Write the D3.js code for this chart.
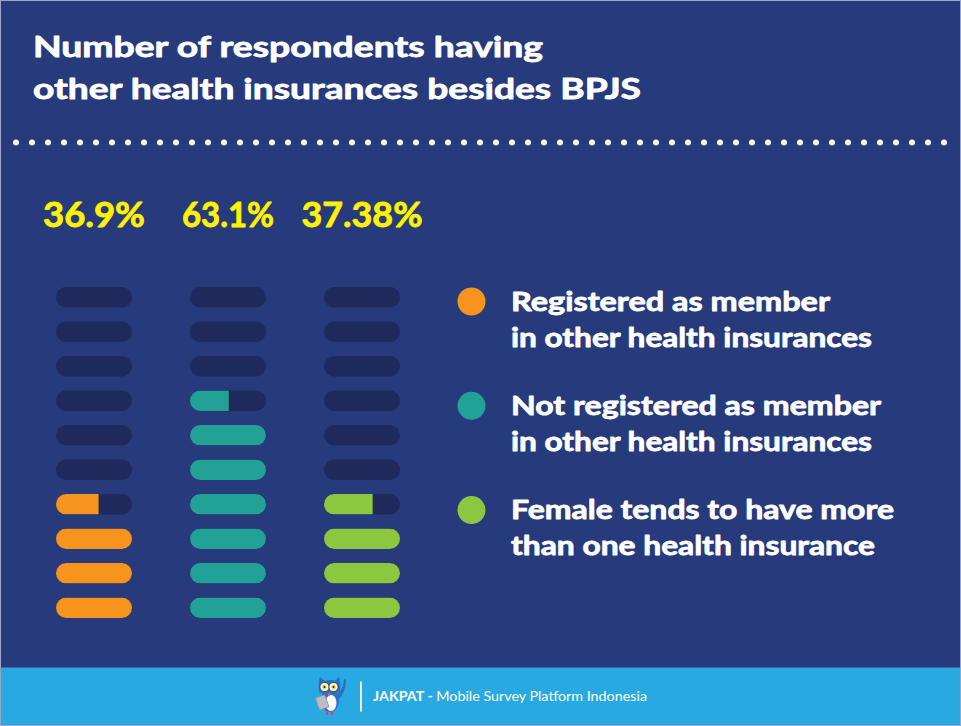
<!DOCTYPE html>
<html>
<head>
<meta charset="utf-8">
<script src="https://cdn.jsdelivr.net/npm/d3@7"></script>
<style>
  html, body { margin: 0; padding: 0; background: #263a7c; }
  svg { display: block; }
  text { font-family: Lato, "Open Sans", sans-serif; font-weight: 700; }
  .heavy { stroke-linejoin: round; paint-order: stroke; }
</style>
</head>
<body>
<div id="chart"></div>
<script>
// data
const categories = ['Registered', 'Not registered', 'Female'];
const pctLabels = ['36.9%', '63.1%', '37.38%'];
const filledUnits = [3.56, 6.51, 3.64];   // how many of the 10 pills are filled
const totalUnits = 10;
const legendLines = [
    ['Registered as member', 'in other health insurances'],
    ['Not registered as member', 'in other health insurances'],
    ['Female tends to have more', 'than one health insurance']
];
const titleLines = ['Number of respondents having', 'other health insurances besides BPJS'];

const W = 961, H = 726;
const bg = '#263a7c';
const pillEmpty = '#1e2a5b';
const colors = ['#f7941d', '#22a196', '#8dc63f'];

const svg = d3.select('#chart').append('svg')
    .attr('width', W)
    .attr('height', H);

svg.append('rect').attr('width', W).attr('height', H).attr('fill', bg);

// stretch text to a measured width, and thicken it a little
function fit(sel, w, col) {
    sel.attr('textLength', w)
        .attr('lengthAdjust', 'spacingAndGlyphs')
        .classed('heavy', true)
        .attr('stroke', col)
        .attr('stroke-width', 0.8);
}

// title
svg.selectAll('.title')
    .data(titleLines)
    .join('text')
    .attr('class', 'title')
    .attr('x', 33)
    .attr('y', (d, i) => 57 + i * 42)
    .attr('fill', '#fff')
    .attr('font-size', 28.5)
    .text(d => d)
    .each(function (d, i) { fit(d3.select(this), [510, 608][i], '#fff'); });

// dotted divider
const dotX = d3.scaleLinear().domain([0, 58]).range([16, 944]);
svg.append('g')
    .selectAll('circle')
    .data(d3.range(59))
    .join('circle')
    .attr('cx', d => dotX(d))
    .attr('cy', 142.5)
    .attr('r', 3)
    .attr('fill', '#fff');

// pill columns
const pillW = 76, pillH = 20.5;
const xCol = d3.scalePoint().domain(categories).range([94, 362]);
const yRow = d3.scaleLinear().domain([totalUnits - 1, 0]).range([287, 597.5]); // 0 = bottom
const xFill = d3.scaleLinear().domain([0, 1]).range([0, pillW]).clamp(true);

svg.selectAll('.pct')
    .data(pctLabels)
    .join('text')
    .attr('class', 'pct')
    .attr('x', (d, i) => xCol(categories[i]))
    .attr('y', 227.3)
    .attr('text-anchor', 'middle')
    .attr('fill', '#fff200')
    .attr('font-size', 34)
    .text(d => d)
    .each(function (d, i) { fit(d3.select(this), [102, 92, 121][i], '#fff200'); });

const defs = svg.append('defs');

categories.forEach((cat, ci) => {
    const g = svg.append('g')
        .attr('transform', `translate(${xCol(cat) - pillW / 2},0)`);
    const rows = d3.range(totalUnits).map(r => ({ r, frac: Math.max(0, Math.min(1, filledUnits[ci] - r)) }));

    g.selectAll('.empty')
        .data(rows)
        .join('rect')
        .attr('class', 'empty')
        .attr('y', d => yRow(d.r))
        .attr('width', pillW)
        .attr('height', pillH)
        .attr('rx', pillH / 2)
        .attr('fill', pillEmpty);

    const filled = rows.filter(d => d.frac > 0);
    filled.forEach(d => {
        defs.append('clipPath')
            .attr('id', `clip-${ci}-${d.r}`)
            .append('rect')
            .attr('x', 0)
            .attr('y', yRow(d.r))
            .attr('width', xFill(d.frac))
            .attr('height', pillH);
    });

    g.selectAll('.fill')
        .data(filled)
        .join('rect')
        .attr('class', 'fill')
        .attr('y', d => yRow(d.r))
        .attr('width', pillW)
        .attr('height', pillH)
        .attr('rx', pillH / 2)
        .attr('clip-path', d => `url(#clip-${ci}-${d.r})`)
        .attr('fill', colors[ci]);
});

// legend
const legendWidths = [[319, 361], [370, 361], [383, 364]];
const legend = svg.append('g');
const items = legend.selectAll('.legend-item')
    .data(legendLines)
    .join('g')
    .attr('class', 'legend-item')
    .attr('transform', (d, i) => `translate(0, ${i * 104.3})`);

items.append('circle')
    .attr('cx', 471.5)
    .attr('cy', 301.5)
    .attr('r', 14)
    .attr('fill', (d, i) => colors[i]);

items.each(function (lines, i) {
    d3.select(this).selectAll('text')
        .data(lines)
        .join('text')
        .attr('x', 511)
        .attr('y', (d, j) => 310.7 + j * 36)
        .attr('fill', '#fff')
        .attr('font-size', 26.5)
        .text(d => d)
        .each(function (d, j) { fit(d3.select(this), legendWidths[i][j], '#fff'); });
});

// footer
svg.append('rect')
    .attr('y', 667.5)
    .attr('width', W)
    .attr('height', H - 667.5)
    .attr('fill', '#29a9e1');

svg.append('rect')
    .attr('x', 360)
    .attr('y', 681.5)
    .attr('width', 1.8)
    .attr('height', 30)
    .attr('fill', '#fff');

const foot = svg.append('text')
    .attr('x', 373)
    .attr('y', 700.7)
    .attr('fill', '#fff')
    .attr('font-size', 13.5)
    .attr('textLength', 274)
    .attr('lengthAdjust', 'spacingAndGlyphs');
foot.append('tspan').text('JAKPAT - ');
foot.append('tspan').attr('font-weight', 400).text('Mobile Survey Platform Indonesia');

// little owl mascot
const owl = svg.append('g').attr('transform', 'translate(329,695)');
owl.append('path') // raised wing
    .attr('d', 'M6,2 Q14,-4 15,-16 L17,-15 Q17,-2 8,6 Z')
    .attr('fill', '#2f6fc0');
owl.append('ellipse').attr('cx', 1).attr('cy', 5).attr('rx', 9).attr('ry', 12).attr('fill', '#2f6fc0');
owl.append('ellipse').attr('cx', 2).attr('cy', 8).attr('rx', 5.5).attr('ry', 8).attr('fill', '#fff');
owl.append('path') // head with ears
    .attr('d', 'M-10,-3 Q-11,-14 -9,-18 L-4,-14 Q1,-16 6,-14 L10,-18 Q12,-14 11,-3 Q1,3 -10,-3 Z')
    .attr('fill', '#2f6fc0');
[-4.5, 4.5].forEach(dx => {
    owl.append('circle').attr('cx', dx).attr('cy', -8).attr('r', 4.6).attr('fill', '#fff').attr('stroke', '#333').attr('stroke-width', 0.8);
    owl.append('circle').attr('cx', dx).attr('cy', -8).attr('r', 2.2).attr('fill', '#f2d21b');
    owl.append('circle').attr('cx', dx).attr('cy', -8).attr('r', 1).attr('fill', '#222');
});
owl.append('path').attr('d', 'M-1.5,-2 L1.5,-2 L0,2 Z').attr('fill', '#e8546a');
owl.append('rect') // tablet
    .attr('x', -12).attr('y', 1).attr('width', 10).attr('height', 13)
    .attr('transform', 'rotate(-20,-7,7)')
    .attr('fill', '#b9bcc4').attr('stroke', '#8a8d95').attr('stroke-width', 0.7);
[-3, 2].forEach(dx => {
    owl.append('rect').attr('x', dx).attr('y', 16.5).attr('width', 2).attr('height', 3.5).attr('fill', '#e8336d');
});

// thin frame
svg.append('rect')
    .attr('x', 0.5).attr('y', 0.5)
    .attr('width', W - 1).attr('height', H - 1)
    .attr('fill', 'none')
    .attr('stroke', '#9aa6c8')
    .attr('stroke-width', 1);
</script>
</body>
</html>
